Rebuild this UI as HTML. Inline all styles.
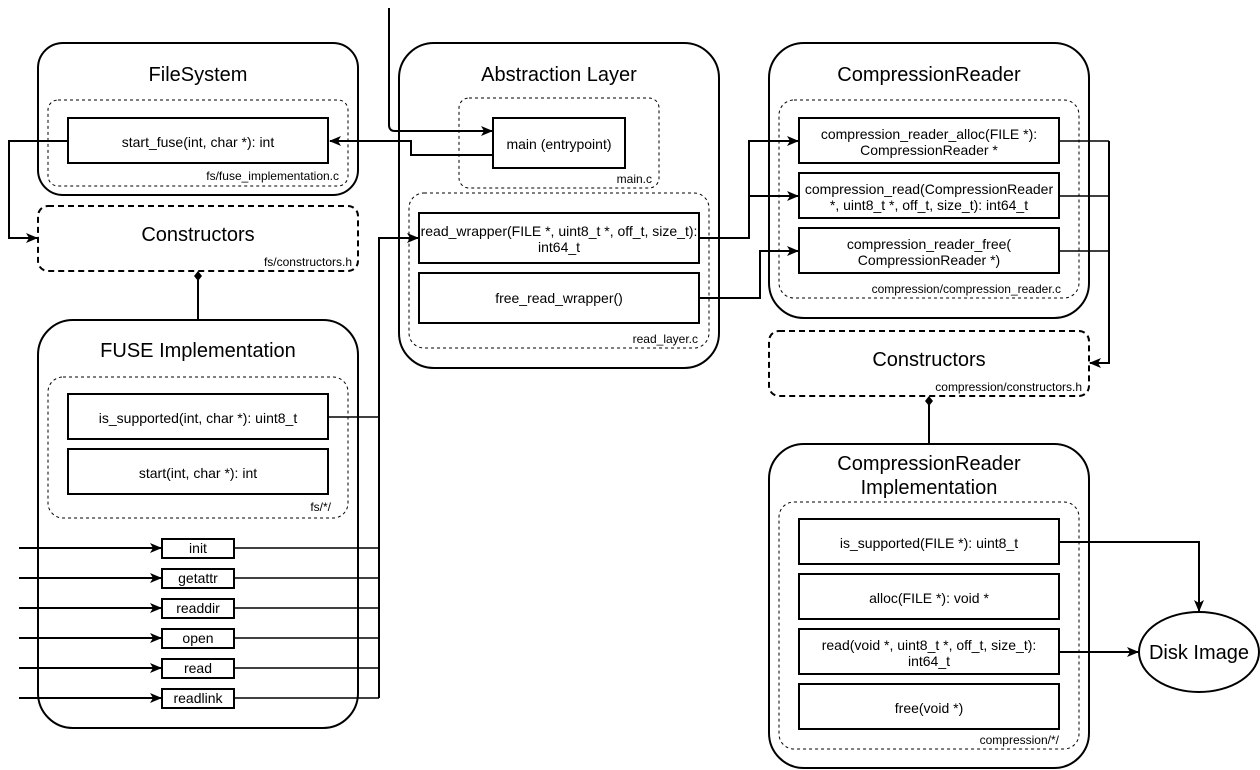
<!DOCTYPE html>
<html><head><meta charset="utf-8"><style>
html,body{margin:0;padding:0;background:#fff;}
svg{display:block;}
text{font-family:"Liberation Sans",sans-serif;fill:#000;}
</style></head><body>
<svg width="1260" height="770" viewBox="0 0 1260 770" xmlns="http://www.w3.org/2000/svg">
<defs>
<marker id="a" markerWidth="12" markerHeight="10" refX="11" refY="5" orient="auto" markerUnits="userSpaceOnUse">
<path d="M0,0 L12,5 L0,10 L3,5 Z" fill="#000"/>
</marker>
</defs>
<g fill="none" stroke="#000">
<rect x="38" y="43" width="320" height="152" rx="25" stroke-width="2"/>
<rect x="48" y="100" width="300" height="86" rx="10" stroke-dasharray="3,3"/>
<rect x="68" y="118" width="260" height="45" stroke-width="2"/>
<rect x="38" y="206" width="320" height="65" rx="10" stroke-width="2" stroke-dasharray="6,4"/>
<rect x="38" y="320" width="320" height="408" rx="35" stroke-width="2"/>
<rect x="48" y="377" width="300" height="141" rx="15" stroke-dasharray="3,3"/>
<rect x="68" y="394" width="260" height="45" stroke-width="2"/>
<rect x="68" y="449" width="260" height="45" stroke-width="2"/>
<rect x="162" y="539" width="72" height="19" stroke-width="2"/>
<rect x="162" y="569" width="72" height="19" stroke-width="2"/>
<rect x="162" y="599" width="72" height="19" stroke-width="2"/>
<rect x="162" y="629" width="72" height="19" stroke-width="2"/>
<rect x="162" y="659" width="72" height="19" stroke-width="2"/>
<rect x="162" y="689" width="72" height="19" stroke-width="2"/>
<rect x="399" y="43" width="320" height="325" rx="35" stroke-width="2"/>
<rect x="459" y="98" width="200" height="90" rx="10" stroke-dasharray="3,3"/>
<rect x="493" y="118" width="132" height="50" stroke-width="2"/>
<rect x="409" y="193" width="300" height="155" rx="15" stroke-dasharray="3,3"/>
<rect x="419" y="213" width="280" height="50" stroke-width="2"/>
<rect x="419" y="273" width="280" height="50" stroke-width="2"/>
<rect x="769" y="43" width="320" height="275" rx="35" stroke-width="2"/>
<rect x="779" y="100" width="300" height="198" rx="15" stroke-dasharray="3,3"/>
<rect x="799" y="118" width="260" height="45" stroke-width="2"/>
<rect x="799" y="173" width="260" height="45" stroke-width="2"/>
<rect x="799" y="228" width="260" height="45" stroke-width="2"/>
<rect x="769" y="331" width="320" height="65" rx="10" stroke-width="2" stroke-dasharray="6,4"/>
<rect x="769" y="444" width="320" height="324" rx="35" stroke-width="2"/>
<rect x="779" y="502" width="300" height="247" rx="15" stroke-dasharray="3,3"/>
<rect x="799" y="519" width="260" height="45" stroke-width="2"/>
<rect x="799" y="574" width="260" height="45" stroke-width="2"/>
<rect x="799" y="629" width="260" height="45" stroke-width="2"/>
<rect x="799" y="684" width="260" height="45" stroke-width="2"/>
<ellipse cx="1199" cy="652" rx="60" ry="40" stroke-width="2"/>

<g stroke-width="2">
<path d="M68,141 H9 V238 H37" marker-end="url(#a)"/>
<path d="M493,155 H411 V141 H330" marker-end="url(#a)"/>
<path d="M389,8 V125 Q389,131 395,131 H492" marker-end="url(#a)"/>
<path d="M198,320 V280"/>
<path d="M929,444 V404"/>
<path d="M19,548 H161" marker-end="url(#a)"/>
<path d="M19,578 H161" marker-end="url(#a)"/>
<path d="M19,608 H161" marker-end="url(#a)"/>
<path d="M19,638 H161" marker-end="url(#a)"/>
<path d="M19,668 H161" marker-end="url(#a)"/>
<path d="M19,698 H161" marker-end="url(#a)"/>
<path d="M379,698 V238 H418" marker-end="url(#a)"/>
<path d="M699,238 H749 V141 H798" marker-end="url(#a)"/>
<path d="M749,196 H798" marker-end="url(#a)"/>
<path d="M699,298 H760 V251 H798" marker-end="url(#a)"/>
<path d="M1109,141 V363 H1090" marker-end="url(#a)"/>
<path d="M1059,542 H1199 V611" marker-end="url(#a)"/>
<path d="M1059,652 H1138" marker-end="url(#a)"/>
</g>
<g stroke-width="1.5">
<path d="M328,417 H379"/>
<path d="M234,548 H379 M234,578 H379 M234,608 H379 M234,638 H379 M234,668 H379 M234,698 H379"/>
<path d="M1059,141 H1109 M1059,196 H1109 M1059,251 H1109"/>
</g>
</g>
<path d="M198,271 L202,276 L198,281 L194,276Z" fill="#000"/>
<path d="M929,396 L933,401 L929,406 L925,401Z" fill="#000"/>

<g font-size="20" text-anchor="middle">
<text x="198" y="81">FileSystem</text>
<text x="198" y="241">Constructors</text>
<text x="198" y="357">FUSE Implementation</text>
<text x="559" y="81">Abstraction Layer</text>
<text x="929" y="81">CompressionReader</text>
<text x="929" y="366">Constructors</text>
<text x="929" y="470">CompressionReader</text>
<text x="929" y="494">Implementation</text>
<text x="1199" y="659">Disk Image</text>
</g>
<g font-size="14" text-anchor="middle">
<text x="198" y="147">start_fuse(int, char *): int</text>
<text x="198" y="423">is_supported(int, char *): uint8_t</text>
<text x="198" y="478">start(int, char *): int</text>
<text x="198" y="553">init</text>
<text x="198" y="583">getattr</text>
<text x="198" y="613">readdir</text>
<text x="198" y="643">open</text>
<text x="198" y="673">read</text>
<text x="198" y="703">readlink</text>
<text x="559" y="149">main (entrypoint)</text>
<text x="559" y="236">read_wrapper(FILE *, uint8_t *, off_t, size_t):</text>
<text x="559" y="303">free_read_wrapper()</text>
<text x="929" y="139">compression_reader_alloc(FILE *):</text>
<text x="929" y="155">CompressionReader *</text>
<text x="929" y="194">compression_read(CompressionReader</text>
<text x="929" y="210">*, uint8_t *, off_t, size_t): int64_t</text>
<text x="929" y="249">compression_reader_free(</text>
<text x="929" y="265">CompressionReader *)</text>
<text x="929" y="548">is_supported(FILE *): uint8_t</text>
<text x="929" y="603">alloc(FILE *): void *</text>
<text x="929" y="650">read(void *, uint8_t *, off_t, size_t):</text>
<text x="929" y="666">int64_t</text>
<text x="929" y="713">free(void *)</text>
</g>
<text x="538" y="252" font-size="14">int64_t</text>
<g font-size="12" text-anchor="end">
<text x="339" y="180">fs/fuse_implementation.c</text>
<text x="352" y="266">fs/constructors.h</text>
<text x="331" y="511">fs/*/</text>
<text x="652" y="183">main.c</text>
<text x="698" y="343">read_layer.c</text>
<text x="1061" y="293">compression/compression_reader.c</text>
<text x="1082" y="391">compression/constructors.h</text>
<text x="1059" y="744">compression/*/</text>
</g>
</svg>
</body></html>
